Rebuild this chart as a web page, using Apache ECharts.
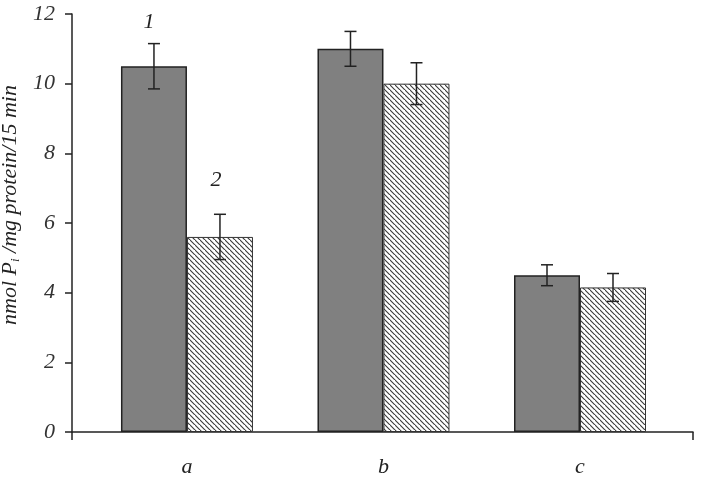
<!DOCTYPE html>
<html>
<head>
<meta charset="utf-8">
<script src="https://cdn.jsdelivr.net/npm/echarts@6/dist/echarts.min.js"></script>
<style>
  html, body { margin: 0; padding: 0; background: #fff; }
  #main { width: 704px; height: 480px; }
</style>
</head>
<body>
<div id="main"></div>
<script>
// data
const categories = ['a', 'b', 'c'];
const series1 = [10.5, 11.0, 4.5];
const series1Err = [0.65, 0.5, 0.3];
const series2 = [5.6, 10.0, 4.15];
const series2Err = [0.65, 0.6, 0.4];
const yTicks = [0, 2, 4, 6, 8, 10, 12];

const FONT = '"Liberation Serif", "DejaVu Serif", serif';
const INK = '#222';

// x runs as a value axis so the groups sit where the original puts them
const X_MIN = -0.585;
const X_MAX = 2.575;

// diagonal hatch pattern for the second series
function hatch() {
  const c = document.createElement('canvas');
  const s = 5;
  c.width = s; c.height = s;
  const g = c.getContext('2d');
  g.fillStyle = '#fff';
  g.fillRect(0, 0, s, s);
  g.strokeStyle = '#3a3a3a';
  g.lineWidth = 1.1;
  g.beginPath();
  g.moveTo(-1, -1); g.lineTo(s + 1, s + 1);
  g.moveTo(-s - 1, -1); g.lineTo(1, s + 1);
  g.moveTo(s - 1, -s - 1); g.lineTo(2 * s + 1, 1);
  g.stroke();
  return c;
}

const chart = echarts.init(document.getElementById('main'));

const BAR_W = 66;

// error bars drawn at the bar centres
function errSeries(vals, errs, side) {
  return {
    type: 'custom',
    z: 5,
    silent: true,
    data: vals.map((v, i) => [i, v, errs[i]]),
    renderItem: function (params, api) {
      const i = api.value(0);
      const v = api.value(1);
      const e = api.value(2);
      const top = api.coord([i, v + e]);
      const bot = api.coord([i, v - e]);
      const x = top[0] + side * BAR_W / 2;
      const cap = 6;
      const st = { stroke: INK, lineWidth: 1.5 };
      return {
        type: 'group',
        children: [
          { type: 'line', shape: { x1: x, y1: top[1], x2: x, y2: bot[1] }, style: st },
          { type: 'line', shape: { x1: x - cap, y1: top[1], x2: x + cap, y2: top[1] }, style: st },
          { type: 'line', shape: { x1: x - cap, y1: bot[1], x2: x + cap, y2: bot[1] }, style: st }
        ]
      };
    }
  };
}

const labelStyle = { show: true, position: 'top', fontFamily: FONT, fontStyle: 'italic', fontSize: 22, color: INK };

const option = {
  animation: false,
  backgroundColor: '#fff',
  grid: { left: 72, right: 11, top: 14, bottom: 48, containLabel: false, outerBoundsMode: 'none' },
  xAxis: {
    type: 'value',
    min: X_MIN,
    max: X_MAX,
    splitLine: { show: false },
    axisLine: { show: true, onZero: false, lineStyle: { color: INK, width: 1.5 } },
    axisTick: { show: true, length: 8, customValues: [X_MIN, X_MAX], lineStyle: { color: INK, width: 1.5 } },
    axisLabel: {
      margin: 24,
      customValues: categories.map((c, i) => i),
      formatter: function (v) { return categories[Math.round(v)]; },
      fontFamily: FONT, fontStyle: 'italic', fontSize: 22, color: INK
    }
  },
  yAxis: {
    type: 'value',
    min: yTicks[0],
    max: yTicks[yTicks.length - 1],
    interval: 2,
    splitLine: { show: false },
    axisLine: { show: true, onZero: false, lineStyle: { color: INK, width: 1.5 } },
    axisTick: { show: true, length: 7, lineStyle: { color: INK, width: 1.5 } },
    axisLabel: { margin: 17, fontFamily: FONT, fontStyle: 'italic', fontSize: 22, color: '#333' },
    name: '{a|nmol P}{s|i}{a| /mg protein/15 min}',
    nameLocation: 'middle',
    nameGap: 48,
    nameTextStyle: {
      padding: [0, 0, 0, 36],
      rich: {
        a: { fontFamily: FONT, fontStyle: 'italic', fontSize: 22, color: INK },
        s: { fontFamily: FONT, fontStyle: 'italic', fontSize: 13, color: INK, verticalAlign: 'bottom', padding: [10, 0, 0, 0] }
      }
    }
  },
  series: [
    {
      type: 'bar',
      barWidth: BAR_W,
      barGap: '0%',
      data: series1.map((v, i) => i === 0
        ? { value: [i, v], label: Object.assign({}, labelStyle, { formatter: '1', distance: 33, offset: [-5, 0] }) }
        : [i, v]),
      itemStyle: { color: '#808080', borderColor: INK, borderWidth: 1.5 }
    },
    {
      type: 'bar',
      barWidth: BAR_W,
      data: series2.map((v, i) => i === 0
        ? { value: [i, v], label: Object.assign({}, labelStyle, { formatter: '2', distance: 46, offset: [-4, 0] }) }
        : [i, v]),
      itemStyle: { color: { image: hatch(), repeat: 'repeat' }, borderColor: '#333', borderWidth: 1 }
    },
    errSeries(series1, series1Err, -1),
    errSeries(series2, series2Err, 1)
  ]
};

chart.setOption(option);
</script>
</body>
</html>
